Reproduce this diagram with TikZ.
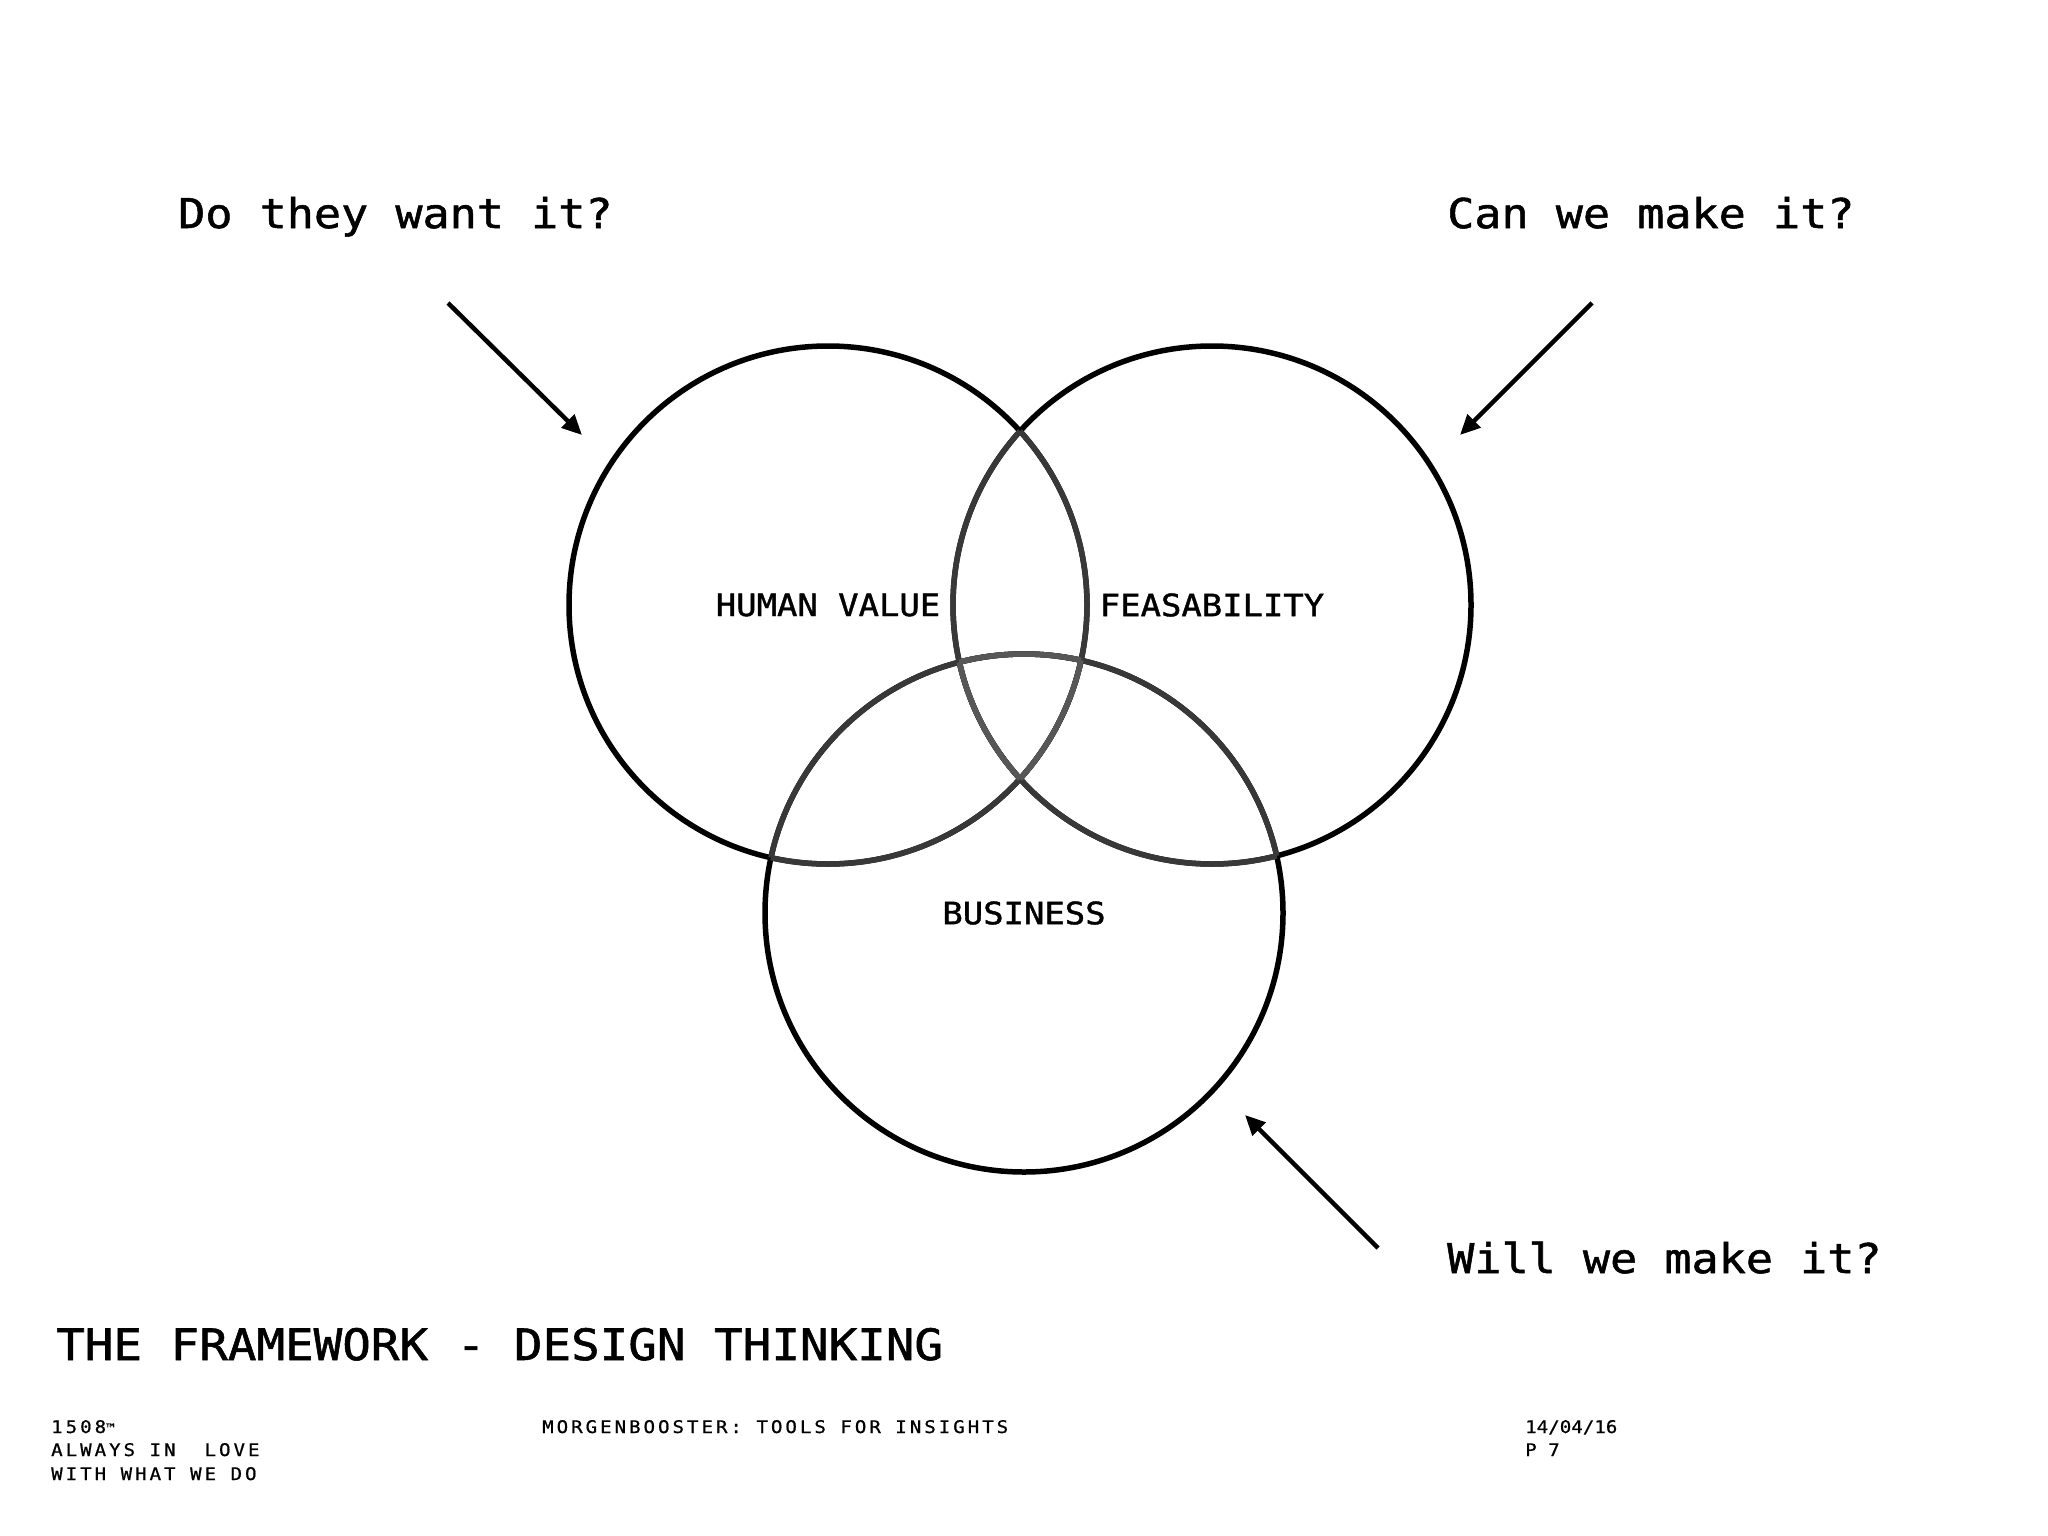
\documentclass[tikz,border=0pt]{standalone}
\usepackage{fontspec}
\usetikzlibrary{arrows.meta}
\newfontfamily\qfont[FakeStretch=1.1,FakeBold=1.3]{DejaVu Sans Mono}
\newfontfamily\footfont[FakeStretch=1.1,FakeBold=0.8,LetterSpace=17]{DejaVu Sans Mono}
\newfontfamily\datefont[FakeStretch=1.1,FakeBold=0.8]{DejaVu Sans Mono}
\tikzset{
  ring/.style={circle, draw=black, line width=5.5pt, minimum size=518pt, inner sep=0pt,
    font=\qfont\fontsize{30.8}{31}\selectfont},
  pairarc/.style={draw=black!78, line width=5.5pt},
  triarc/.style={draw=black!66, line width=5.5pt},
  question/.style={anchor=base west, inner sep=0pt, font=\qfont\fontsize{41}{41}\selectfont},
  titletext/.style={anchor=base west, inner sep=0pt, font=\qfont\fontsize{43.2}{44}\selectfont},
  foot/.style={anchor=base west, inner sep=0pt, font=\footfont\fontsize{17.4}{18}\selectfont},
  datetext/.style={anchor=base west, inner sep=0pt, font=\datefont\fontsize{17.4}{18}\selectfont},
  pointer/.style={line width=4.5pt, -{Triangle[length=20pt,width=18pt]}}
}
\begin{document}
\begin{tikzpicture}[x=1pt,y=-1pt]
\useasboundingbox[fill=white] (0,0) rectangle (2048,1536);

% circles
\node[ring] (hv) at (828,605) {HUMAN VALUE};
\node[ring] (fe) at (1212,605) {FEASABILITY};
\node[ring] (bu) at (1024,913) {BUSINESS};

% inner arcs (lighter)
\foreach \i/\j in {hv/fe, hv/bu, fe/hv, fe/bu, bu/hv, bu/fe}{
  \begin{scope}
    \clip (\j) circle[radius=259pt];
    \draw[pairarc] (\i) circle[radius=259pt];
  \end{scope}
}
\foreach \i/\j/\k in {hv/fe/bu, fe/hv/bu, bu/hv/fe}{
  \begin{scope}
    \clip (\j) circle[radius=259pt];
    \clip (\k) circle[radius=259pt];
    \draw[triarc] (\i) circle[radius=259pt];
  \end{scope}
}

% questions
\node[question] (q1) at (178,228) {Do they want it?};
\node[question] (q2) at (1447,228) {Can we make it?};
\node[question] (q3) at (1447,1273) {Will we make it?};

% arrows
\coordinate (a1s) at (448,303);
\coordinate (a1e) at (582,435);
\coordinate (a2s) at (1592,303);
\coordinate (a2e) at (1460,435);
\coordinate (a3s) at (1378,1248);
\coordinate (a3e) at (1245,1115);
\draw[pointer] (a1s) -- (a1e);
\draw[pointer] (a2s) -- (a2e);
\draw[pointer] (a3s) -- (a3e);

% title
\node[titletext] (title) at (56,1360) {THE FRAMEWORK - DESIGN THINKING};

% footer
\node[foot] (f1) at (51,1433) {1508{\datefont\fontsize{13}{13}\selectfont ™}};
\node[foot] (f2) at (51,1456) {ALWAYS IN\ \ LOVE};
\node[foot] (f3) at (51,1480) {WITH WHAT WE DO};
\node[foot] (f4) at (542,1433) {MORGENBOOSTER: TOOLS FOR INSIGHTS};
\node[datetext] (f5) at (1525,1433) {14/04/16};
\node[datetext] (f6) at (1525,1456) {P 7};
\end{tikzpicture}
\end{document}
